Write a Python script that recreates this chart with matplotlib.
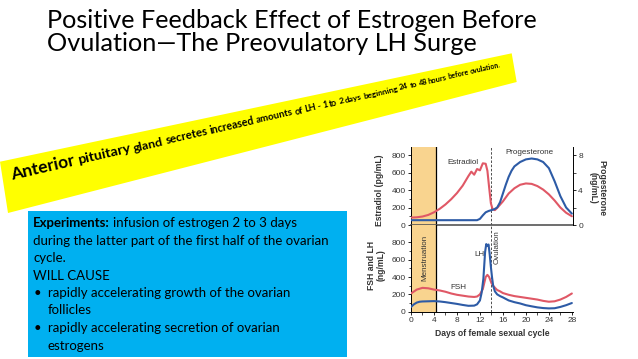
import math
import matplotlib
matplotlib.use("Agg")
import matplotlib.pyplot as plt
from matplotlib.patches import Polygon, Rectangle
from matplotlib.ticker import MultipleLocator

W, H = 638, 359

# ---- data ----
estradiol_day = [0, 1, 2, 3, 4, 5, 6, 7, 8, 9, 10, 10.5, 11, 11.5, 12, 12.5, 13, 13.3,
                 13.6, 13.9, 14.2, 14.6, 15, 16, 17, 18, 19, 20, 21, 22, 23, 24, 25, 26, 27, 28]
estradiol = [85, 88, 97, 115, 145, 185, 235, 295, 365, 450, 560, 610, 575, 640, 625, 705, 700, 620,
             430, 250, 180, 170, 195, 270, 360, 420, 460, 475, 470, 445, 405, 350, 280, 200, 140, 100]

progesterone_day = [0, 11.5, 12, 12.5, 13, 13.5, 14, 14.5, 15, 15.5, 16, 16.5, 17, 17.5, 18,
                    19, 20, 21, 22, 23, 24, 25, 26, 27, 28]
progesterone = [0.55, 0.55, 0.7, 1.1, 1.45, 1.6, 1.7, 1.8, 2.0, 2.6, 3.6, 4.6, 5.5, 6.2, 6.7,
                7.2, 7.5, 7.6, 7.5, 7.2, 6.5, 5.0, 3.3, 2.0, 1.3]

fsh_day = [0, 1, 2, 3, 4, 5, 6, 7, 8, 9, 10, 11, 11.5, 12, 12.5, 13, 13.3, 13.6, 14, 14.3,
           14.7, 15, 15.5, 16, 17, 18, 19, 20, 21, 22, 23, 24, 25, 26, 27, 28]
fsh = [210, 255, 275, 270, 255, 245, 230, 210, 195, 185, 175, 170, 175, 200, 260, 400, 425, 400,
       330, 300, 270, 250, 235, 215, 195, 180, 170, 160, 150, 140, 125, 115, 120, 140, 170, 210]

lh_day = [0, 0.5, 1, 1.5, 2, 3, 4, 5, 6, 7, 8, 9, 10, 11, 11.5, 12, 12.3, 12.6, 12.9, 13.1,
          13.3, 13.5, 13.7, 13.9, 14.1, 14.3, 14.6, 15, 15.5, 16, 17, 18, 19, 20, 21, 22,
          23, 24, 25, 26, 27, 28]
lh = [55, 85, 105, 115, 118, 120, 122, 118, 110, 100, 90, 78, 68, 70, 85, 130, 220, 380, 690, 780,
      760, 775, 660, 520, 400, 300, 235, 200, 180, 165, 130, 110, 95, 75, 62, 50,
      42, 38, 40, 55, 75, 100]

conc_ticks = [0, 200, 400, 600, 800]
conc_minor = [100, 300, 500, 700]
prog_ticks = [0, 4, 8]
prog_minor = [2, 6]

title_lines = ["Positive Feedback Effect of Estrogen Before",
               "Ovulation\u2014The Preovulatory LH Surge"]
banner_words = ("Anterior pituitary gland secretes increased amounts of LH - 1 to 2 days "
                "beginning 24 to 48 hours before ovulation.").split()
box_lines = ["during the latter part of the first half of the ovarian",
             "cycle.",
             "WILL CAUSE"]
bullets = [["rapidly accelerating growth of the ovarian", "follicles"],
           ["rapidly accelerating secretion of ovarian", "estrogens"]]

RED = "#e05866"
BLUE = "#2d5ba6"
SHADE = "#f9d48f"
SLIDE_FONT = ["Lato", "DejaVu Sans"]
CHART_FONT = ["Liberation Sans", "DejaVu Sans"]


def fx(x):
    return x / W


def fy(y):
    return 1 - y / H


fig = plt.figure(figsize=(W / 100, H / 100), dpi=100)
fig.patch.set_facecolor("white")
renderer = fig.canvas.get_renderer()


def text_width(s, size, weight="normal", family=SLIDE_FONT):
    t = fig.text(0, 0, s, fontsize=size, fontweight=weight, family=family)
    w = t.get_window_extent(renderer).width
    t.remove()
    return w


# ---- title ----
tfs = 18.2
fig.text(fx(47), fy(28.5), title_lines[0], fontsize=tfs, family=SLIDE_FONT,
         va="baseline", ha="left", color="black")
fig.text(fx(47), fy(51), title_lines[1], fontsize=tfs, family=SLIDE_FONT,
         va="baseline", ha="left", color="black")

# ---- yellow banner, text shrinking toward the right ----
banner = Polygon([(fx(0), fy(161.7)), (fx(511.7), fy(53.3)), (fx(516.7), fy(82)),
                  (fx(8), fy(213))], closed=True, transform=fig.transFigure,
                 facecolor="#ffff00", edgecolor="none", zorder=3)
fig.patches.append(banner)

ang = 13.0
ca, sa = math.cos(math.radians(ang)), math.sin(math.radians(ang))
x0, y0 = 12, H - 180
fs0, k = 12.5, 0.0031
s = 0.0
for word in banner_words:
    fs = fs0 / (1 + k * s)
    px, py = x0 + s * ca, y0 + s * sa
    fig.text(px / W, py / H, word, fontsize=fs, fontweight="bold", family=SLIDE_FONT,
             rotation=ang, rotation_mode="anchor", ha="left", va="baseline", zorder=4)
    s += text_width(word, fs, "bold") + 0.2 * fs * 100 / 72

# ---- blue box ----
fig.patches.append(Rectangle((fx(28), fy(357)), (347 - 28) / W, (357 - 211) / H,
                             transform=fig.transFigure, facecolor="#00b0f0",
                             edgecolor="none", zorder=2))
bfs = 9.5
ys = [223, 240.7, 258, 276, 292.7, 310, 327.7, 345.7]
lead = "Experiments:"
fig.text(fx(33), fy(ys[0]), lead, fontsize=bfs, fontweight="bold", family=SLIDE_FONT,
         va="center", ha="left", zorder=5)
lw_ = text_width(lead, bfs, "bold")
fig.text(fx(33) + (lw_ + 3) / W, fy(ys[0]), "infusion of estrogen 2 to 3 days", fontsize=bfs,
         family=SLIDE_FONT, va="center", ha="left", zorder=5)
for i, line in enumerate(box_lines):
    fig.text(fx(33), fy(ys[i + 1]), line, fontsize=bfs, family=SLIDE_FONT,
             va="center", ha="left", zorder=5)
for j, (first, second) in enumerate(bullets):
    yb = ys[4 + 2 * j]
    fig.text(fx(34), fy(yb), "\u2022", fontsize=bfs, family=SLIDE_FONT,
             va="center", ha="left", zorder=5)
    fig.text(fx(47.5), fy(yb), first, fontsize=bfs, family=SLIDE_FONT,
             va="center", ha="left", zorder=5)
    fig.text(fx(47.5), fy(ys[5 + 2 * j]), second, fontsize=bfs, family=SLIDE_FONT,
             va="center", ha="left", zorder=5)

# ---- chart ----
cfs = 6.0
lfs = 6.2
left, right = 411, 573
ax1 = fig.add_axes([fx(left), fy(225), (right - left) / W, (225 - 146.7) / H])
ax2 = fig.add_axes([fx(left), fy(311.7), (right - left) / W, (311.7 - 225) / H])
ax1r = ax1.twinx()

for ax, top in ((ax1, 895), (ax2, 1000)):
    ax.set_xlim(0, 28.2)
    ax.set_ylim(0, top)
    ax.axvspan(0, 4.4, color=SHADE, lw=0, zorder=0)
    ax.axvline(4.4, color="black", lw=0.9, zorder=1)
    ax.axvline(14, color="#333333", lw=0.6, dashes=(3, 2), zorder=1)
    ax.spines["top"].set_visible(False)
    ax.spines["right"].set_visible(False)
    ax.spines["left"].set_linewidth(0.7)
    ax.set_yticks(conc_ticks)
    ax.set_yticks(conc_minor, minor=True)
    ax.tick_params(axis="y", which="major", length=2.5, width=0.6, labelsize=cfs,
                   pad=1.2, labelcolor="#333333")
    ax.tick_params(axis="y", which="minor", length=1.8, width=0.5)
    ax.patch.set_alpha(0)
    for lab in ax.get_yticklabels():
        lab.set_family(CHART_FONT)

ax1.spines["bottom"].set_color("#555555")
ax1.spines["bottom"].set_linewidth(1.2)
ax1.set_xticks([])
ax1r.set_ylim(0, 8.95)
ax1r.set_xlim(0, 28.2)
ax1r.spines["top"].set_visible(False)
ax1r.spines["left"].set_visible(False)
ax1r.spines["bottom"].set_visible(False)
ax1r.spines["right"].set_linewidth(0.7)
ax1r.set_yticks(prog_ticks)
ax1r.set_yticks(prog_minor, minor=True)
ax1r.tick_params(axis="y", which="major", length=2.5, width=0.6, labelsize=cfs, pad=1.2,
                 labelcolor="#333333")
ax1r.tick_params(axis="y", which="minor", length=1.8, width=0.5)
for lab in ax1r.get_yticklabels():
    lab.set_family(CHART_FONT)

ax1.plot(estradiol_day, estradiol, color=RED, lw=1.5, solid_capstyle="round", zorder=3)
ax1r.plot(progesterone_day, progesterone, color=BLUE, lw=1.5, solid_capstyle="round", zorder=4)
ax2.plot(fsh_day, fsh, color=RED, lw=1.5, solid_capstyle="round", zorder=3)
ax2.plot(lh_day, lh, color=BLUE, lw=1.5, solid_capstyle="round", zorder=4)

ax2.xaxis.set_major_locator(MultipleLocator(4))
ax2.xaxis.set_minor_locator(MultipleLocator(2))
ax2.spines["bottom"].set_linewidth(0.7)
ax2.tick_params(axis="x", which="major", length=2.5, width=0.6, labelsize=cfs, pad=1.5,
                labelcolor="#333333")
ax2.tick_params(axis="x", which="minor", length=1.8, width=0.5)
for lab in ax2.get_xticklabels():
    lab.set_family(CHART_FONT)

ax1.text(9.0, 720, "Estradiol", fontsize=5.8, family=CHART_FONT, ha="center",
         va="center", color="#333333")
ax1.text(20.6, 830, "Progesterone", fontsize=5.8, family=CHART_FONT, ha="center",
         va="center", color="#333333")
ax2.text(11.85, 660, "LH", fontsize=5.8, family=CHART_FONT, ha="center", va="center",
         color="#333333")
ax2.text(8.3, 275, "FSH", fontsize=5.8, family=CHART_FONT, ha="center", va="center",
         color="#333333")
fig.text(fx(425), fy(258), "Menstruation", rotation=90, fontsize=5.8, family=CHART_FONT,
         ha="center", va="center", color="#333333")
fig.text(fx(497), fy(247), "Ovulation", rotation=90, fontsize=5.8, family=CHART_FONT,
         ha="center", va="center", color="#333333")

fig.text(fx(379), fy(190), "Estradiol (pg/mL)", rotation=90, fontsize=lfs,
         fontweight="bold", family=CHART_FONT, ha="center", va="center", color="#333333")
fig.text(fx(597.5), fy(188), "Progesterone\n(ng/mL)", rotation=270, fontsize=lfs,
         fontweight="bold", family=CHART_FONT, ha="center", va="center",
         multialignment="center", linespacing=1.1, color="#333333")
fig.text(fx(376), fy(265), "FSH and LH\n(ng/mL)", rotation=90, fontsize=lfs,
         fontweight="bold", family=CHART_FONT, ha="center", va="center",
         multialignment="center", linespacing=1.1, color="#333333")
fig.text(fx(492), fy(333), "Days of female sexual cycle", fontsize=lfs, fontweight="bold",
         family=CHART_FONT, ha="center", va="center", color="#333333")

fig.savefig("out.png", dpi=100)
